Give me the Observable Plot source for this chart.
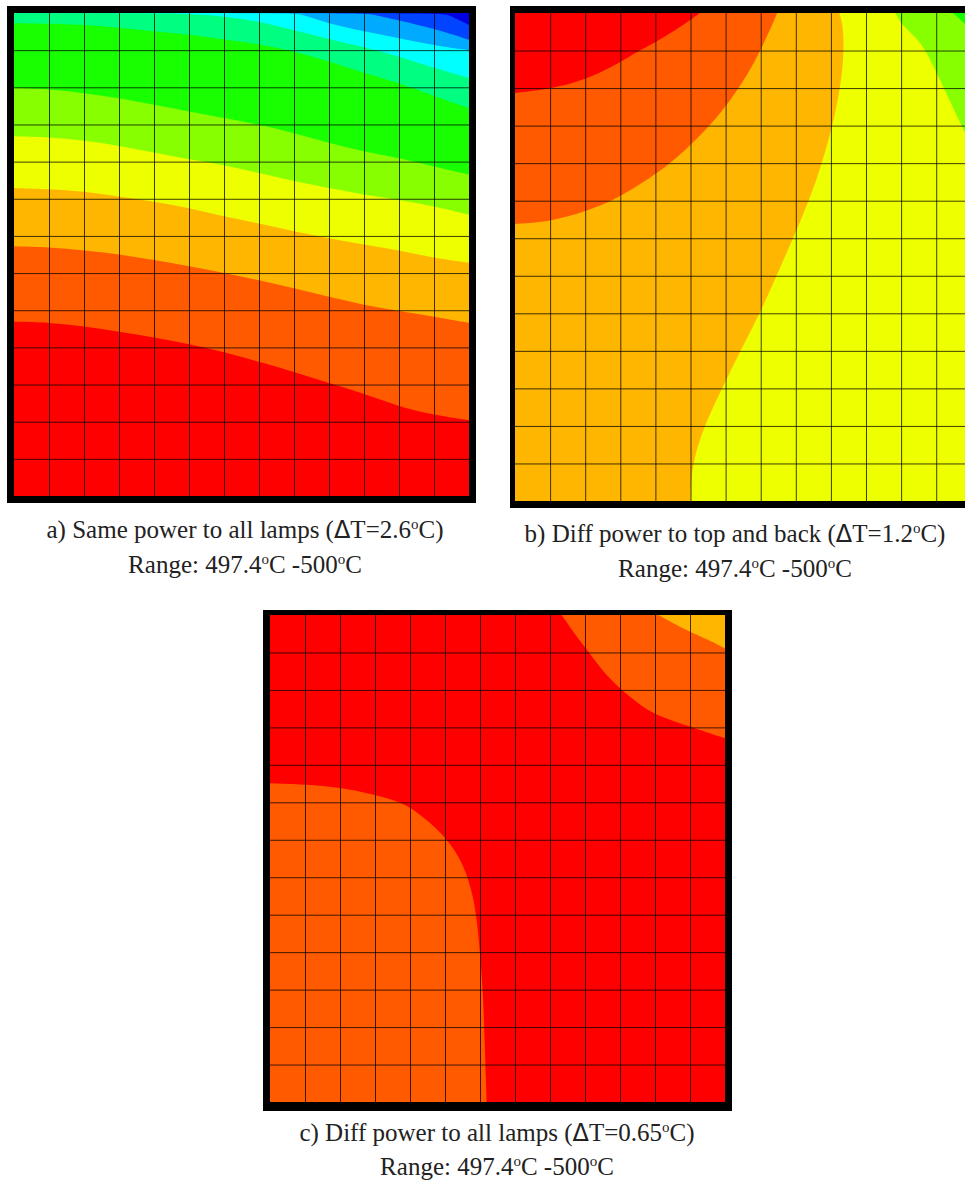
<!DOCTYPE html>
<html>
<head>
<meta charset="utf-8">
<script src="https://cdn.jsdelivr.net/npm/d3@7"></script>
<script src="https://cdn.jsdelivr.net/npm/@observablehq/plot@0.6"></script>
<style>
  html, body { margin: 0; padding: 0; background: #fff; overflow: hidden; }
  body { position: relative; width: 965px; height: 1181px; }
  .panel { position: absolute; }
  .panel svg { display: block; }
  .cap { position: absolute; transform: translateX(-50%); white-space: nowrap; text-align: center;
         font-family: "Liberation Serif", serif; font-size: 25px; line-height: 35px; color: #222; }
  .cap sup { font-size: 15px; line-height: 0; vertical-align: 9px; }
  .cap .d { font-family: "DejaVu Sans", sans-serif; font-size: 24px; line-height: 0; }
</style>
</head>
<body>
<script>
// Temperature band colours, hottest to coolest
const red = "#ff0000", orange = "#ff5a00", amber = "#ffb600", yellow = "#eeff00", lime = "#88ff00",
      green = "#18ff00", mint = "#00ff80", cyan = "#00ffff", azure = "#00aaff", blue = "#0044ff", navy = "#0000e0";

// Grid cell indices (13 x 13 cells)
const gridLines = [1, 2, 3, 4, 5, 6, 7, 8, 9, 10, 11, 12];

// Whole panel, top edge
const fullEdge = [[0,0],[13,0]];

// Panel a: lower edge of each band, [column, row]
const aNavyEdge = [[0,0],[12.2,0],[12.4,0.04],[13,0.32]];
const aBlueEdge = [[0,0],[10,0],[10.2,0.03],[11,0.2],[12,0.42],[13,0.72]];
const aAzureEdge = [[0,0],[8,0],[8.2,0.03],[9,0.29],[10,0.49],[11,0.68],[12,0.87],[13,1.0]];
const aCyanEdge = [[0,0],[5,0],[6,0.1],[7,0.22],[8,0.47],[9,0.7],[10,0.92],[11,1.17],[12,1.48],[13,1.75]];
const aMintEdge = [[0,0.27],[1,0.29],[2,0.31],[3,0.4],[4,0.49],[5,0.58],[6,0.72],[7,0.83],[8,1.03],[9,1.3],[10,1.62],[11,1.88],[12,2.24],[13,2.56]];
const aGreenEdge = [[0,2.02],[1,2.05],[2,2.15],[3,2.29],[4,2.47],[5,2.65],[6,2.83],[7,3.0],[8,3.23],[9,3.5],[10,3.73],[11,3.9],[12,4.13],[13,4.35]];
const aLimeEdge = [[0,3.32],[1,3.34],[2,3.43],[3,3.57],[4,3.75],[5,3.95],[6,4.08],[7,4.31],[8,4.53],[9,4.71],[10,4.89],[11,5.03],[12,5.2],[13,5.43]];
const aYellowEdge = [[0,4.71],[1,4.74],[2,4.8],[3,4.94],[4,5.07],[5,5.25],[6,5.48],[7,5.66],[8,5.88],[9,6.06],[10,6.24],[11,6.38],[12,6.6],[13,6.72]];
const aAmberEdge = [[0,6.28],[1,6.3],[2,6.39],[3,6.49],[4,6.65],[5,6.81],[6,7.0],[7,7.19],[8,7.41],[9,7.64],[10,7.86],[11,8.02],[12,8.17],[13,8.34]];
const aOrangeEdge = [[0,8.31],[1,8.33],[2,8.43],[3,8.58],[4,8.73],[5,8.91],[6,9.12],[7,9.39],[8,9.65],[9,9.97],[10,10.24],[11,10.6],[12,10.82],[13,10.96]];

// Panel b: band edges, [column, row]
const bGreenEdge = [[12.47,0],[12.9,0.36],[13,0.45]];
const bLimeEdge = [[10.83,0],[11.05,0.36],[11.47,0.67],[11.76,1.11],[12.04,1.64],[12.37,2.31],[12.8,3.16],[13,3.5]];
const bAmberEdge = [[9.24,0],[9.34,0.3],[9.38,1],[9.27,2],[9.05,3],[8.75,4],[8.38,5],[7.92,6],[7.45,7],[6.98,8],[6.42,9],[5.9,10],[5.38,11],[5.06,12],[5.01,12.6],[5.0,13]];
const bOrangeEdge = [[7.47,0],[7.01,0.98],[6.63,1.64],[6.02,2.49],[5.4,3.16],[4.45,4],[3.97,4.31],[3.03,4.89],[2.03,5.29],[0.99,5.56],[0,5.62]];
const bRedEdge = [[5.26,0],[4.88,0.27],[3.98,0.8],[3.5,1.02],[2.98,1.33],[2.03,1.78],[0.99,2.03],[0,2.13]];

// Panel c: band edges, [column, row]
const cOrangeCorner = [[8.33,0],[8.76,0.58],[9.1,0.98],[9.48,1.47],[10,1.98],[10.52,2.36],[11,2.67],[11.95,2.96],[13,3.29]];
const cAmberCorner = [[11.1,0],[11.95,0.44],[12.43,0.62],[13,0.89]];
const cOrangeLeft = [[0,4.49],[1,4.52],[2,4.6],[3,4.8],[3.8,5.0],[4.4,5.4],[5.05,5.95],[5.5,6.6],[5.75,7.3],[5.9,8],[6,9.02],[6.08,10],[6.12,10.98],[6.19,13]];

// Caption text
const captions = [
  ["a) Same power to all lamps (", "T=2.6", "C)"],
  ["b) Diff power to top and back (", "T=1.2", "C)"],
  ["c) Diff power to all lamps (", "T=0.65", "C)"]
];
const rangeLow = "497.4", rangeHigh = "500";

const col = d => d[0], row = d => d[1];
const smooth = "basis";
const below = (edge, fill) => Plot.areaY(edge, {x: col, y1: row, y2: () => 13, fill, curve: smooth});
const leftOf = (edge, fill) => Plot.areaX(edge, {y: row, x1: () => 0, x2: col, fill, curve: smooth});
const rightOf = (edge, fill) => Plot.areaX(edge, {y: row, x1: col, x2: () => 13, fill, curve: smooth});
const grid = [
  Plot.ruleX(gridLines, {x: d => d, stroke: "#000", strokeWidth: 1, strokeOpacity: 0.75}),
  Plot.ruleY(gridLines, {y: d => d, stroke: "#000", strokeWidth: 1, strokeOpacity: 0.75})
];

function panel(left, top, width, height, margins, xMax, background, marks) {
  const chart = Plot.plot({
    width, height, ...margins,
    x: {axis: null, domain: [0, xMax]},
    y: {axis: null, domain: [0, 13], reverse: true},
    clip: true,
    style: {background: "#000"},
    marks: [below(fullEdge, background), ...marks, ...grid]
  });
  const div = document.createElement("div");
  div.className = "panel";
  div.style.left = left + "px";
  div.style.top = top + "px";
  div.appendChild(chart);
  document.body.appendChild(div);
}

function caption(cx, top, parts, lineHeight) {
  const div = document.createElement("div");
  div.className = "cap";
  div.style.left = cx + "px";
  div.style.top = top + "px";
  div.style.lineHeight = lineHeight + "px";
  div.innerHTML = `${parts[0]}<span class="d">\u0394</span>${parts[1]}<sup>o</sup>${parts[2]}<br>` +
    `Range: ${rangeLow}<sup>o</sup>C -${rangeHigh}<sup>o</sup>C`;
  document.body.appendChild(div);
}

panel(7, 6, 469, 497, {marginLeft: 7, marginRight: 7, marginTop: 7, marginBottom: 7}, 13, navy, [
  below(aNavyEdge, blue), below(aBlueEdge, azure), below(aAzureEdge, cyan), below(aCyanEdge, mint),
  below(aMintEdge, green), below(aGreenEdge, lime), below(aLimeEdge, yellow), below(aYellowEdge, amber),
  below(aAmberEdge, orange), below(aOrangeEdge, red)
]);

panel(510, 6, 455, 502, {marginLeft: 5, marginRight: 0, marginTop: 7, marginBottom: 7}, 12.82, yellow, [
  rightOf(bLimeEdge, lime), rightOf(bGreenEdge, green),
  leftOf(bAmberEdge, amber), leftOf(bOrangeEdge, orange), leftOf(bRedEdge, red)
]);

panel(263, 610, 469, 501, {marginLeft: 7, marginRight: 7, marginTop: 5, marginBottom: 9}, 13, red, [
  rightOf(cOrangeCorner, orange), rightOf(cAmberCorner, amber), leftOf(cOrangeLeft, orange)
]);

caption(245, 512, captions[0], 35);
caption(735, 516, captions[1], 35);
caption(497, 1116, captions[2], 34);
</script>
</body>
</html>
